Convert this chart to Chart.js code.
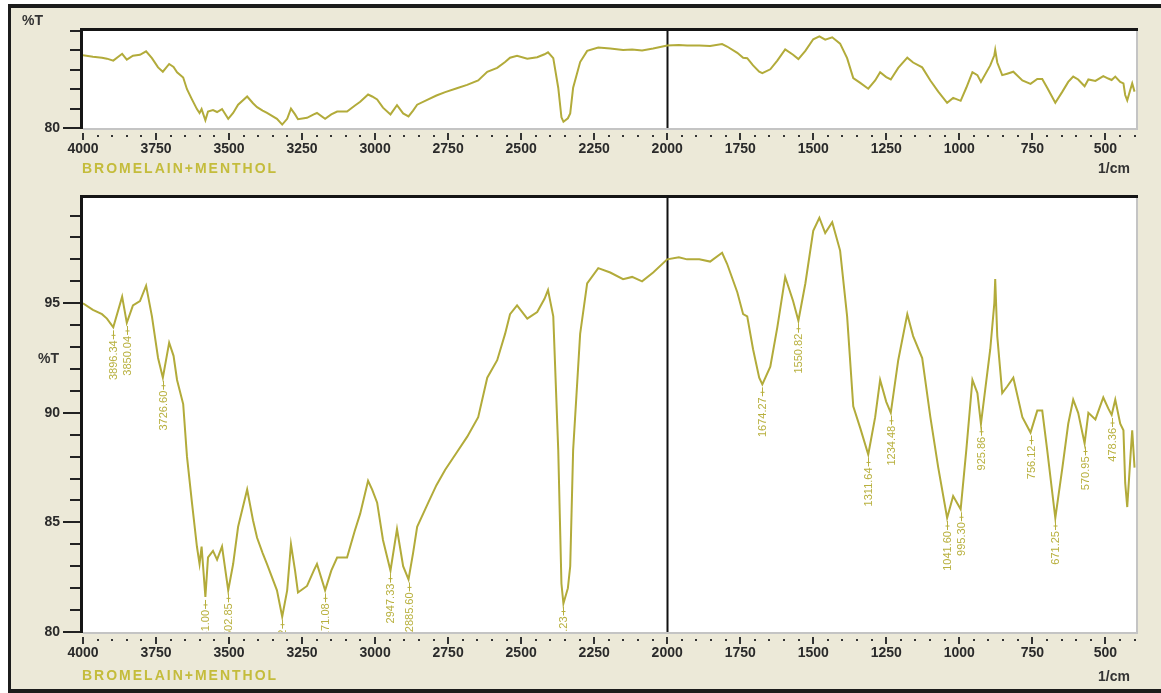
<!DOCTYPE html>
<html>
<head>
<meta charset="utf-8">
<script src="https://cdn.jsdelivr.net/npm/chart.js@4.4.1/dist/chart.umd.min.js"></script>
<style>
  html, body { margin: 0; padding: 0; background: #ffffff; }
  body { width: 1161px; height: 693px; position: relative; overflow: hidden; }
  #frame {
    position: absolute; left: 8px; top: 4px; width: 1153px; height: 689px;
    background: #ece9d8; box-sizing: border-box;
    border-top: 4px solid #1c1c1c; border-left: 3px solid #1c1c1c; border-bottom: 4px solid #1c1c1c;
  }
  .box { position: absolute; left: 0; }
  .txt { position: absolute; font-family: "Liberation Sans", Arial, sans-serif; white-space: nowrap; }
  .axisname { font-size: 14px; font-weight: bold; color: #333; }
  .sample { font-size: 14px; font-weight: bold; color: #c4bc3c; letter-spacing: 2px; }
</style>
</head>
<body>
<div id="frame"></div>
<div class="box" style="top:0px"><canvas id="overview" width="1161" height="185"></canvas></div>
<div class="box" style="top:185px"><canvas id="detail" width="1161" height="508"></canvas></div>

<div class="txt axisname" style="left:22px; top:12px;">%T</div>
<div class="txt sample" style="left:82px; top:160px;">BROMELAIN+MENTHOL</div>
<div class="txt axisname" style="left:1098px; top:160px;">1/cm</div>

<div class="txt axisname" style="left:38px; top:350px;">%T</div>
<div class="txt sample" style="left:82px; top:667px;">BROMELAIN+MENTHOL</div>
<div class="txt axisname" style="left:1098px; top:668px;">1/cm</div>

<script>
// ---------------------------------
// 스펙트럼 데이터
// ---------------------------------
const wavenumbers = [
  4000, 3966, 3935, 3918, 3896.34, 3866, 3850.04, 3829, 3805, 3784,
  3764, 3743, 3726.6, 3705, 3690, 3678, 3657, 3644, 3627, 3610,
  3601, 3594, 3581, 3572, 3555, 3541, 3524, 3502.85, 3486, 3469,
  3438, 3418, 3404, 3385, 3370, 3336, 3318, 3301, 3288, 3274,
  3264, 3233, 3210, 3199, 3171.08, 3150, 3130, 3096, 3070, 3051,
  3024, 3010, 2993, 2973, 2947.33, 2925, 2904, 2885.6, 2870, 2856,
  2818, 2790, 2760, 2720, 2685, 2647, 2616, 2582, 2555, 2538,
  2514, 2479, 2445, 2420, 2408, 2390, 2373, 2362, 2355.23, 2340,
  2332, 2322, 2298, 2274, 2236, 2195, 2151, 2120, 2086, 2048,
  2000, 1960, 1932, 1890, 1853, 1812, 1795, 1760, 1740, 1726,
  1706, 1685, 1674.27, 1647, 1623, 1596, 1569, 1550.82, 1527, 1500,
  1479, 1459, 1435, 1408, 1384, 1363, 1339, 1311.64, 1288, 1271,
  1250, 1234.48, 1209, 1178, 1158, 1127, 1099, 1072, 1041.6, 1021,
  995.3, 976, 955, 938, 925.86, 894, 880, 877, 870, 853,
  836, 815, 784, 756.12, 733, 716, 699, 671.25, 647, 627,
  610, 593, 570.95, 558, 534, 507, 490, 478.36, 466, 449,
  438, 432, 425, 414, 408, 400
];
const transmittance = [
  95.0, 94.7, 94.5, 94.3, 93.9, 95.3, 94.1, 94.9, 95.1, 95.8,
  94.4, 92.5, 91.6, 93.2, 92.6, 91.5, 90.4, 88.0, 85.9, 83.9,
  83.1, 83.9, 81.6, 83.4, 83.7, 83.3, 83.9, 81.9, 83.1, 84.8,
  86.5, 85.1, 84.3, 83.6, 83.1, 81.9, 80.7, 81.9, 84.0, 82.8,
  81.8, 82.1, 82.8, 83.1, 81.9, 82.8, 83.4, 83.4, 84.6, 85.4,
  86.9, 86.5, 85.9, 84.2, 82.8, 84.7, 83.0, 82.4, 83.6, 84.8,
  85.9, 86.7, 87.4, 88.2, 88.9, 89.8, 91.6, 92.4, 93.6, 94.5,
  94.9, 94.3, 94.6, 95.2, 95.6, 94.4, 88.3, 82.2, 81.3, 82.0,
  83.0, 88.3, 93.6, 95.9, 96.6, 96.4, 96.1, 96.2, 96.0, 96.4,
  97.0, 97.1, 97.0, 97.0, 96.9, 97.3, 96.8, 95.5, 94.5, 94.4,
  92.9, 91.6, 91.3, 92.1, 93.9, 96.2, 95.1, 94.2, 95.9, 98.3,
  98.9, 98.2, 98.7, 97.4, 94.4, 90.3, 89.3, 88.1, 89.8, 91.5,
  90.5, 90.0, 92.4, 94.5, 93.5, 92.5, 89.8, 87.5, 85.2, 86.2,
  85.6, 88.3, 91.5, 90.9, 89.5, 92.9, 95.0, 96.1, 93.5, 90.9,
  91.2, 91.6, 89.8, 89.1, 90.1, 90.1, 88.3, 85.2, 87.5, 89.5,
  90.6, 90.0, 88.6, 90.0, 89.7, 90.7, 90.2, 89.9, 90.6, 89.5,
  89.2, 86.8, 85.7, 88.0, 89.2, 87.5
];

// 피크 표시
const peakWavenumbers = [3896.34, 3850.04, 3726.6, 3581.0, 3502.85, 3318.0, 3171.08, 2947.33, 2885.6, 2355.23,
  1674.27, 1550.82, 1311.64, 1234.48, 1041.6, 995.3, 925.86, 756.12, 671.25, 570.95, 478.36];
const peakTransmittance = [93.9, 94.1, 91.6, 81.6, 81.9, 80.7, 81.9, 82.8, 82.4, 81.3,
  91.3, 94.2, 88.1, 90.0, 85.2, 85.6, 89.5, 89.1, 85.2, 88.6, 89.9];
const peakLabels = ['3896.34', '3850.04', '3726.60', '3581.00', '3502.85', '3318.02', '3171.08', '2947.33', '2885.60', '2355.23',
  '1674.27', '1550.82', '1311.64', '1234.48', '1041.60', '995.30', '925.86', '756.12', '671.25', '570.95', '478.36'];

const LINE_COLOR = '#b2ab3a';
const LABEL_COLOR = '#b8b03e';
const TICK_FONT = { family: '"Liberation Sans", Arial, sans-serif', size: 14, weight: 'bold' };

const points = wavenumbers.map((w, i) => ({ x: w, y: transmittance[i] }));

///////////////////////
// 플러그인: 플롯 영역, 눈금, 2000 선, 피크 라벨
///////////////////////
const spectrumFrame = {
  id: 'spectrumFrame',
  beforeDraw(chart) {
    const { ctx, chartArea: a } = chart;
    ctx.save();
    ctx.fillStyle = '#ffffff';
    ctx.fillRect(a.left, a.top, a.right - a.left, a.bottom - a.top);
    ctx.restore();
  },
  beforeDatasetsDraw(chart) {
    const { ctx, chartArea: a, scales } = chart;
    const x2000 = Math.round(scales.x.getPixelForValue(2000)) + 0.5;
    ctx.save();
    ctx.strokeStyle = '#111';
    ctx.lineWidth = 2;
    ctx.beginPath();
    ctx.moveTo(x2000, a.top);
    ctx.lineTo(x2000, a.bottom);
    ctx.stroke();
    ctx.restore();
  },
  afterDatasetsDraw(chart, args, opts) {
    const { ctx, chartArea: a, scales } = chart;
    const xs = scales.x, ys = scales.y;
    ctx.save();

    // 피크 라벨
    if (opts.peaks) {
      ctx.save();
      ctx.beginPath();
      ctx.rect(a.left, a.top, a.right - a.left, a.bottom - a.top);
      ctx.clip();
      ctx.strokeStyle = LABEL_COLOR;
      ctx.fillStyle = LABEL_COLOR;
      ctx.lineWidth = 1;
      ctx.font = '11px "Liberation Sans", Arial, sans-serif';
      peakWavenumbers.forEach((w, i) => {
        const px = Math.round(xs.getPixelForValue(w)) + 0.5;
        const py = ys.getPixelForValue(peakTransmittance[i]);
        ctx.beginPath();
        ctx.moveTo(px, py + 3);
        ctx.lineTo(px, py + 12);
        ctx.moveTo(px - 2, py + 8);
        ctx.lineTo(px + 2, py + 8);
        ctx.stroke();
        ctx.save();
        ctx.translate(px, py + 13);
        ctx.rotate(-Math.PI / 2);
        ctx.textAlign = 'right';
        ctx.textBaseline = 'middle';
        ctx.fillText(peakLabels[i], 0, 0);
        ctx.restore();
      });
      ctx.restore();
    }

    // 테두리
    ctx.strokeStyle = '#c4c4c4';
    ctx.lineWidth = 2;
    ctx.beginPath();
    ctx.moveTo(a.right + 1, a.top);
    ctx.lineTo(a.right + 1, a.bottom + 1);
    ctx.lineTo(a.left, a.bottom + 1);
    ctx.stroke();
    ctx.strokeStyle = '#151515';
    ctx.lineWidth = 3;
    ctx.beginPath();
    ctx.moveTo(a.left - 1.5, a.bottom + 1);
    ctx.lineTo(a.left - 1.5, a.top - 1.5);
    ctx.lineTo(a.right + 2, a.top - 1.5);
    ctx.stroke();

    // y 눈금
    ctx.strokeStyle = '#222';
    ctx.lineWidth = 2;
    for (let v = ys.min; v <= ys.max + 1e-6; v += opts.yMinor) {
      const py = Math.round(ys.getPixelForValue(v));
      const len = opts.yLabelled(Math.round(v * 10) / 10) ? 17 : 10;
      ctx.beginPath();
      ctx.moveTo(a.left - 3 - len, py);
      ctx.lineTo(a.left - 3, py);
      ctx.stroke();
    }

    // x 눈금 (점 + 큰 눈금)
    ctx.fillStyle = '#333';
    for (let v = 4000; v >= xs.min; v -= 50) {
      const px = Math.round(xs.getPixelForValue(v));
      if (v % 250 === 0) {
        ctx.fillRect(px - 1, a.bottom + 5, 2, 7);
      } else {
        ctx.fillRect(px - 1, a.bottom + 7, 2, 2);
      }
    }
    ctx.restore();
  }
};

function fixWidth(w) { return scale => { scale.width = w; }; }
function fixHeight(h) { return scale => { scale.height = h; }; }

// 눈금선은 플러그인이 그림; 여기서는 라벨 위치만 잡음
function hiddenGrid(len) {
  return { display: true, drawOnChartArea: false, drawTicks: true, tickLength: len, color: 'transparent', tickColor: 'transparent' };
}

function makeSpectrum(canvasId, cfg) {
  const ctx = document.getElementById(canvasId).getContext('2d');
  return new Chart(ctx, {
    type: 'line',
    data: {
      datasets: [{
        data: points,
        borderColor: LINE_COLOR,
        borderWidth: 2,
        pointRadius: 0,
        tension: 0,
        fill: false
      }]
    },
    options: {
      responsive: false,
      animation: false,
      parsing: false,
      layout: { padding: { top: cfg.top, right: 25, left: 0, bottom: 0 } },
      plugins: {
        legend: { display: false },
        tooltip: { enabled: false },
        spectrumFrame: {
          peaks: cfg.peaks,
          yMinor: cfg.yMinor,
          yLabelled: cfg.yLabelled
        }
      },
      scales: {
        x: {
          type: 'linear',
          reverse: true,
          min: 395,
          max: 4000,
          border: { display: false },
          grid: hiddenGrid(13),
          afterFit: fixHeight(cfg.xHeight),
          ticks: {
            stepSize: 250,
            includeBounds: false,
            autoSkip: false,
            maxRotation: 0,
            padding: 0,
            color: '#2a2a2a',
            font: TICK_FONT,
            callback: v => (v % 250 === 0 ? String(v) : '')
          }
        },
        y: {
          min: 80,
          max: cfg.yMax,
          border: { display: false },
          grid: hiddenGrid(21),
          afterFit: fixWidth(83),
          ticks: {
            stepSize: cfg.yMajor,
            includeBounds: false,
            autoSkip: false,
            padding: 2,
            color: '#2a2a2a',
            font: TICK_FONT,
            callback: v => (cfg.yLabelled(v) ? String(v) : '')
          }
        }
      }
    },
    plugins: [spectrumFrame]
  });
}

// 위: 전체 보기, 아래: 피크 표시
makeSpectrum('overview', {
  top: 31, xHeight: 57, yMax: 100, yMinor: 4, yMajor: 4, peaks: false,
  yLabelled: v => v === 80
});
makeSpectrum('detail', {
  top: 13, xHeight: 61, yMax: 99.8, yMinor: 1, yMajor: 5, peaks: true,
  yLabelled: v => v % 5 === 0
});
</script>
</body>
</html>
